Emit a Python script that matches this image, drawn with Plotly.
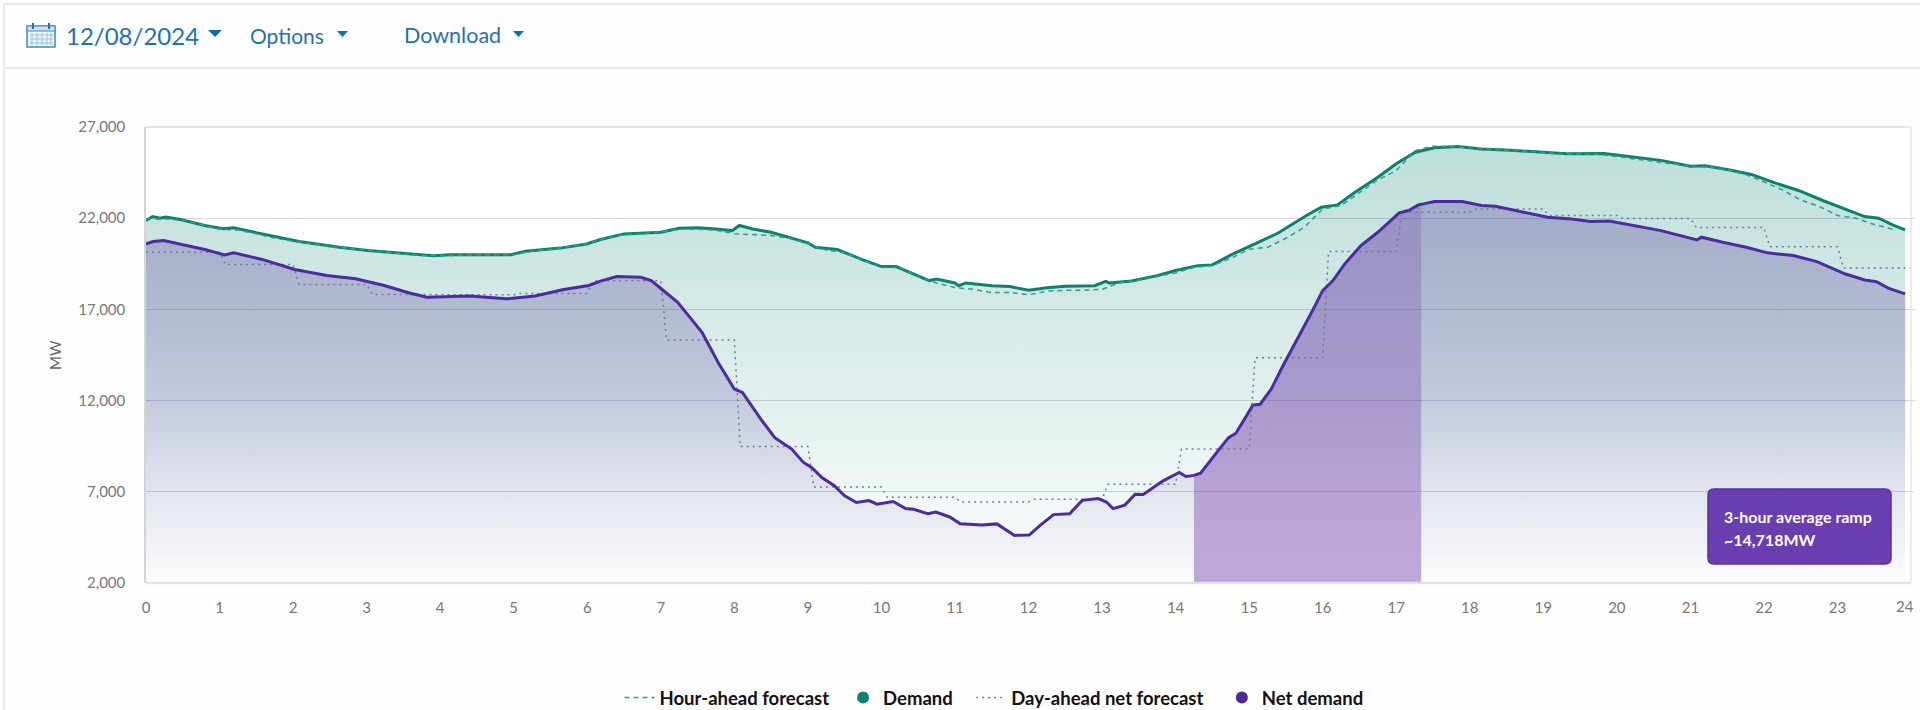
import plotly.graph_objects as go

Y_TICKS = [2000, 7000, 12000, 17000, 22000, 27000]
X_TICKS = list(range(24))
LAST_X_LABEL = "24"

demand_hours = [0,.09,.19,.27,.47,.8,1.05,1.19,1.58,2.08,2.63,3.02,3.57,3.91,4.13,4.96,5.16,5.63,5.99,6.18,6.5,7,7.25,7.5,7.75,7.97,8.07,8.25,8.5,8.75,9,9.1,9.4,9.75,10,10.2,10.5,10.65,10.75,11,11.05,11.15,11.5,11.75,12,12.25,12.5,12.9,13.05,13.1,13.4,13.75,14,14.3,14.5,14.76,15.1,15.4,15.78,15.98,16.2,16.43,16.75,17,17.26,17.52,17.84,18.16,18.55,19,19.32,19.83,20.2,20.6,21,21.2,21.5,21.83,22.15,22.47,22.8,23.05,23.37,23.56,23.75,23.92]
demand = [21870,22090,22000,22070,21930,21600,21420,21470,21140,20720,20410,20230,20050,19940,20000,20000,20190,20360,20590,20830,21140,21230,21450,21480,21410,21320,21600,21410,21230,20960,20650,20410,20280,19710,19350,19350,18850,18580,18670,18450,18300,18450,18300,18250,18050,18190,18270,18300,18540,18450,18560,18850,19130,19400,19440,20000,20630,21200,22150,22600,22730,23390,24250,24980,25620,25860,25930,25800,25730,25620,25530,25550,25350,25170,24850,24870,24670,24400,23940,23520,22970,22600,22090,22000,21630,21360]

net_hours = [0,.1,.24,.47,.8,1.07,1.19,1.58,2.02,2.46,2.85,3.24,3.57,3.82,4.4,4.9,5.29,5.68,6.02,6.18,6.4,6.73,6.87,7.01,7.23,7.56,7.78,8.0,8.11,8.36,8.55,8.78,8.94,9.05,9.19,9.36,9.5,9.66,9.83,9.94,10.16,10.33,10.44,10.63,10.74,10.93,11.07,11.37,11.57,11.81,12.01,12.15,12.34,12.56,12.73,12.95,13.06,13.15,13.31,13.45,13.56,13.83,14.05,14.14,14.25,14.34,14.43,14.6,14.72,14.82,14.95,15.05,15.15,15.3,15.46,15.66,15.85,16.0,16.14,16.3,16.52,16.75,17.04,17.17,17.3,17.34,17.52,17.9,18.16,18.35,18.68,19.06,19.38,19.64,19.9,20.2,20.6,21.09,21.15,21.44,21.76,22.05,22.4,22.72,23.11,23.37,23.53,23.69,23.92]
net_demand = [20590,20720,20780,20590,20280,19990,20100,19740,19190,18860,18680,18310,17910,17670,17730,17580,17730,18090,18310,18550,18800,18760,18580,18120,17390,15740,14090,12630,12450,10980,9970,9340,8610,8330,7780,7330,6780,6410,6520,6320,6470,6080,6040,5800,5890,5620,5250,5180,5240,4610,4630,5130,5750,5800,6530,6630,6440,6080,6270,6870,6850,7600,8060,7840,7900,8020,8510,9370,9970,10210,11070,11750,11800,12630,13910,15370,16840,18030,18580,19490,20500,21230,22290,22420,22730,22760,22920,22920,22700,22660,22380,22050,21960,21820,21850,21630,21320,20810,20960,20680,20410,20100,19950,19620,18940,18610,18520,18170,17850]

hour_ahead_hours = [i * 0.25 for i in range(96)]
hour_ahead = [21950,21950,21900,21650,21400,21350,21150,20900,20750,20600,20450,20350,20250,20150,20050,19950,19950,19950,19980,20000,20000,20200,20300,20450,20600,20900,21100,21150,21250,21400,21400,21350,21150,21100,21050,20900,20600,20250,20100,19700,19300,19300,18800,18450,18200,18100,17920,17930,17800,18000,18050,18050,18100,18480,18600,18800,19000,19300,19400,19800,20300,20400,20900,21500,22500,22700,23400,24100,24600,25700,25950,25950,25850,25800,25750,25680,25600,25520,25520,25500,25380,25250,25120,25000,24850,24800,24650,24400,24000,23550,23000,22650,22150,22000,21650,21400]

day_ahead_hours = [0,1,1.08,2,2.08,3,3.08,4,4.08,5,5.08,6,6.08,7,7.08,8,8.08,9,9.08,10,10.08,11,11.08,12,12.08,13,13.08,14,14.08,15,15.08,16,16.08,17,17.08,18,18.08,19,19.08,20,20.08,21,21.08,22,22.08,23,23.08,24]
day_ahead = [20140,20140,19460,19460,18370,18370,17820,17820,17800,17800,17870,17870,18570,18570,15320,15320,9480,9480,7270,7270,6700,6700,6440,6440,6590,6590,7410,7410,9340,9340,14350,14350,20170,20170,22330,22330,22510,22510,22150,22150,21980,21980,21490,21490,20430,20430,19270,19270]

RAMP_START, RAMP_END = 14.25, 17.34
ramp_pairs = [(h, v) for h, v in zip(net_hours, net_demand) if RAMP_START <= h <= RAMP_END]
ramp_hours = [p[0] for p in ramp_pairs]
ramp_values = [p[1] for p in ramp_pairs]

L, R, T, B = 146, 1911, 127, 583
AX_MIN, AX_MAX = 2000, 27000
px = lambda x: (x - L) / (R - L)
py = lambda y: (B - y) / (B - T)
vy = lambda v: B - (v - AX_MIN) / (AX_MAX - AX_MIN) * (B - T)

TEAL, PURPLE = "#0e8070", "#4b2c9f"
FONT = "Lato"
BLUE = "#1f72ad"
NB = "\u00a0"

fig = go.Figure()

def baseline(x0, x1):
    fig.add_trace(go.Scatter(x=[x0, x1], y=[AX_MIN, AX_MIN], mode="lines", line=dict(width=0),
                             showlegend=False, hoverinfo="skip"))

baseline(demand_hours[0], demand_hours[-1])
fig.add_trace(go.Scatter(x=demand_hours, y=demand, mode="lines", fill="tonexty", showlegend=False,
    line=dict(color=TEAL, width=3),
    fillgradient=dict(type="vertical", start=AX_MIN, stop=26000,
        colorscale=[[0, "rgba(0,128,110,0.01)"], [0.2, "rgba(0,128,110,0.06)"], [0.42, "rgba(0,128,110,0.12)"], [1, "rgba(0,128,110,0.26)"]])))

fig.add_trace(go.Scatter(x=hour_ahead_hours, y=hour_ahead, mode="lines", name="Hour-ahead forecast" + NB * 2,
    line=dict(color="#2f9d8e", width=1.5, dash="5px,4px")))
fig.add_trace(go.Scatter(x=[None], y=[None], mode="markers", name="Demand" + NB * 3,
    marker=dict(color=TEAL, size=12)))

baseline(net_hours[0], net_hours[-1])
fig.add_trace(go.Scatter(x=net_hours, y=net_demand, mode="lines", fill="tonexty", showlegend=False,
    line=dict(color=PURPLE, width=0),
    fillgradient=dict(type="vertical", start=AX_MIN, stop=21000,
        colorscale=[[0, "rgba(80,50,150,0.01)"], [0.26, "rgba(80,50,150,0.09)"], [0.53, "rgba(80,50,150,0.20)"], [1, "rgba(80,50,150,0.30)"]])))

baseline(ramp_hours[0], ramp_hours[-1])
fig.add_trace(go.Scatter(x=ramp_hours, y=ramp_values, mode="lines", fill="tonexty", showlegend=False,
    line=dict(width=0),
    fillgradient=dict(type="vertical", start=AX_MIN, stop=23000,
        colorscale=[[0, "rgba(110,50,170,0.42)"], [1, "rgba(110,50,170,0.2)"]])))

fig.add_trace(go.Scatter(x=day_ahead_hours, y=day_ahead, mode="lines", name="Day-ahead net forecast" + NB * 3,
    line=dict(color="#77779c", width=1.5, dash="2px,4px")))
fig.add_trace(go.Scatter(x=net_hours, y=net_demand, mode="lines", showlegend=False,
    line=dict(color=PURPLE, width=3)))
fig.add_trace(go.Scatter(x=[None], y=[None], mode="markers", name="Net demand",
    marker=dict(color=PURPLE, size=12)))

def line_px(x0, y0, x1, y1, color, width=1.5):
    return dict(type="line", xref="paper", yref="paper", x0=px(x0), y0=py(y0), x1=px(x1), y1=py(y1),
                line=dict(color=color, width=width))

def rect_px(x0, y0, x1, y1, color, fill="rgba(0,0,0,0)", width=1.5):
    return dict(type="rect", xref="paper", yref="paper", x0=px(x0), y0=py(y0), x1=px(x1), y1=py(y1),
                line=dict(color=color, width=width), fillcolor=fill)

def path_px(points, fill, line="rgba(0,0,0,0)"):
    d = "M" + " L".join(f"{px(x)},{py(y)}" for x, y in points) + " Z"
    return dict(type="path", xref="paper", yref="paper", path=d, fillcolor=fill, line=dict(color=line, width=1))

def caret(x0, x1, y0, y1):
    return path_px([(x0, y0), (x1, y0), ((x0 + x1) / 2, y1)], "#0f6cb0")

def rounded(x0, y0, x1, y1, r):
    a, b = (px(x0), px(x1)), (py(y0), py(y1))
    rx, ry = r / (R - L), r / (B - T)
    d = (f"M{a[0]+rx},{b[0]} L{a[1]-rx},{b[0]} Q{a[1]},{b[0]} {a[1]},{b[0]-ry} "
         f"L{a[1]},{b[1]+ry} Q{a[1]},{b[1]} {a[1]-rx},{b[1]} L{a[0]+rx},{b[1]} "
         f"Q{a[0]},{b[1]} {a[0]},{b[1]+ry} L{a[0]},{b[0]-ry} Q{a[0]},{b[0]} {a[0]+rx},{b[0]} Z")
    return dict(type="path", xref="paper", yref="paper", path=d, fillcolor="#6a3db0",
                line=dict(color="#5a2f9f", width=1.5))

shapes = [
    line_px(3, 4, 1920, 4, "#e9e9e9", 2),
    line_px(4, 4, 4, 710, "#e9e9e9", 2),
    line_px(4, 68, 1920, 68, "#e9e9e9", 2),
    line_px(L, B, R, B, "#e3e3e3", 2.5),
    line_px(L, T, R, T, "#e6e6e6", 2),
    line_px(R, T, R, B, "#e6e6ea", 1.5),
    rect_px(27, 26, 55, 47, "#3d8dbd", "#eaf3f8", 1.5),
    rect_px(27, 26, 55, 31, "#3d8dbd", "#cfe3ef", 1),
    line_px(33, 23, 33, 29, BLUE, 2),
    line_px(49, 23, 49, 29, BLUE, 2),
    caret(208, 222, 30, 37),
    caret(337, 348, 31, 37),
    caret(513, 524, 31, 37),
    rounded(1708, 489, 1891, 564, 6),
]
shapes += [line_px(x, 33, x, 45, "#9cc4dc", 1) for x in (32, 37, 42, 47, 51)]
shapes += [line_px(30, y, 53, y, "#9cc4dc", 1) for y in (35, 39, 43)]
shapes += [line_px(R, vy(v), 1915, vy(v), "#d9d9d9", 1) for v in Y_TICKS[1:-1]]

def label(x, y, text, size, color, anchor="left", **kw):
    weight = kw.pop("weight", "normal")
    return dict(text=text, xref="paper", yref="paper", x=px(x), y=py(y), xanchor=anchor, yanchor="middle",
                showarrow=False, font=dict(family=FONT, size=size, color=color, weight=weight), **kw)

annotations = [
    label(64, 35, "12/08/2024", 24, BLUE),
    label(248, 35, "Options", 21, BLUE),
    label(402, 35, "Download", 21.5, BLUE),
    label(1722, 516, "3-hour average ramp", 16, "#ffffff", weight="bold"),
    label(1722, 539, "~14,718MW", 16, "#ffffff", weight="bold"),
    label(55, 355, "MW", 15, "#666666", anchor="center", textangle=-90),
    label(1905, 606, LAST_X_LABEL, 15, "#777777", anchor="center"),
]

fig.update_layout(
    width=1920, height=710, autosize=False,
    margin=dict(l=L, r=1920 - R, t=T, b=710 - B, autoexpand=False),
    paper_bgcolor="#fefefe", plot_bgcolor="#ffffff",
    font=dict(family=FONT, color="#777777", size=15),
    shapes=shapes, annotations=annotations, hovermode=False,
    legend=dict(orientation="h", x=994 / 1920, xref="container", xanchor="center",
                y=(710 - 698) / 710, yref="container", yanchor="middle",
                font=dict(family=FONT, size=18.5, color="#111111", weight="bold"),
                itemwidth=30, bgcolor="rgba(0,0,0,0)", traceorder="normal", tracegroupgap=0),
    xaxis=dict(range=[0, 24], tickvals=X_TICKS, showgrid=False, zeroline=False, showline=False,
               ticks="", ticklabelstandoff=14, tickfont=dict(size=15, color="#777777")),
    yaxis=dict(range=[AX_MIN, AX_MAX], tickvals=Y_TICKS, tickformat=",", gridcolor="#d6d6da", gridwidth=1,
               zeroline=False, showline=True, linecolor="#d4d4d4", linewidth=1.5, ticks="",
               ticklabelstandoff=16, tickfont=dict(size=15, color="#777777")),
)

fig.write_html("out.html", config=dict(displayModeBar=False),
               post_script="document.body.style.margin='0';document.body.style.overflow='hidden';")
